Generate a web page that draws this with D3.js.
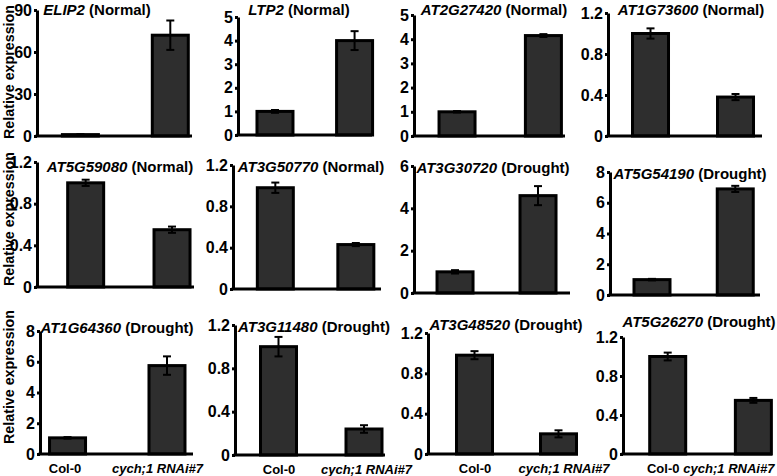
<!DOCTYPE html>
<html><head><meta charset="utf-8">
<script src="https://cdn.jsdelivr.net/npm/d3@7"></script>
<style>
body{margin:0;background:#fff;}
svg{display:block;font-family:"Liberation Sans",Arial,sans-serif;font-weight:bold;}
</style></head>
<body><svg id="c" width="777" height="476"></svg>
<script>
const genes = ["ELIP2","LTP2","AT2G27420","AT1G73600","AT5G59080","AT3G50770","AT3G30720","AT5G54190","AT1G64360","AT3G11480","AT3G48520","AT5G26270"];
const conditions = ["(Normal)","(Normal)","(Normal)","(Normal)","(Normal)","(Normal)","(Drought)","(Drought)","(Drought)","(Drought)","(Drought)","(Drought)"];
const groups = ["Col-0","cych;1 RNAi#7"];
const colValues  = [1.0, 1.0, 1.0, 1.0, 1.0, 0.98, 1.0, 1.0, 1.05, 1.0, 0.98, 1.0];
const colErrors  = [0.3, 0.06, 0.03, 0.05, 0.03, 0.05, 0.08, 0.05, 0.05, 0.09, 0.04, 0.04];
const rnaiValues = [72, 4.0, 4.15, 0.38, 0.55, 0.43, 4.6, 6.9, 5.75, 0.24, 0.2, 0.55];
const rnaiErrors = [10.5, 0.4, 0.06, 0.03, 0.03, 0.015, 0.45, 0.2, 0.6, 0.035, 0.035, 0.025];
const yMax = [90, 5, 5, 1.2, 1.2, 1.2, 6, 8, 8, 1.2, 1.2, 1.2];
const yTicks = [
  [0,30,60,90],[0,1,2,3,4,5],[0,1,2,3,4,5],[0,0.4,0.8,1.2],
  [0,0.4,0.8,1.2],[0,0.4,0.8,1.2],[0,2,4,6],[0,2,4,6,8],
  [0,2,4,6,8],[0,0.4,0.8,1.2],[0,0.4,0.8,1.2],[0,0.4,0.8,1.2]
];
const yLabel = "Relative expression";

// layout (pixel geometry of each panel)
const layout = [
  {x0:37, x1:192, yT:10, yB:136, fL:.28, fR:.86, tx:97, ty:15},
  {x0:238,x1:372, yT:17, yB:135, fL:.276,fR:.87, tx:299,ty:15},
  {x0:414,x1:565, yT:15, yB:136, fL:.285,fR:.857,tx:494,ty:15},
  {x0:608,x1:762, yT:13, yB:136, fL:.276,fR:.828,tx:691,ty:15},
  {x0:37, x1:194, yT:162,yB:287, fL:.31, fR:.86, tx:120,ty:172},
  {x0:233,x1:381, yT:165,yB:289, fL:.286,fR:.83, tx:311,ty:172},
  {x0:414,x1:570, yT:166,yB:293, fL:.263,fR:.795,tx:493,ty:173},
  {x0:610,x1:760, yT:172,yB:295, fL:.28, fR:.835,tx:690,ty:179},
  {x0:40, x1:193, yT:331,yB:454, fL:.18, fR:.83, tx:117,ty:333, lx:[-3,-10]},
  {x0:235,x1:385, yT:325,yB:455, fL:.29, fR:.86, tx:314,ty:332, lx:[0,2]},
  {x0:428,x1:578, yT:333,yB:454, fL:.31, fR:.87, tx:506,ty:330, lx:[0,5]},
  {x0:623,x1:772, yT:337,yB:454, fL:.30, fR:.875,tx:699,ty:327, lx:[-5,-25]}
];
const rowLabelY = [72, 219, 377];
const barW = 36;

const svg = d3.select("#c");
const fmt = v => (v === 0 ? "0" : (Number.isInteger(v) ? String(v) : d3.format(".1f")(v)));

genes.forEach((g, i) => {
  const L = layout[i];
  const w = L.x1 - L.x0;
  const y = d3.scaleLinear().domain([0, yMax[i]]).range([L.yB, L.yT]);
  const x = d3.scalePoint().domain(groups).range([L.x0 + L.fL*w, L.x0 + L.fR*w]);
  const p = svg.append("g");
  const vals = [colValues[i], rnaiValues[i]];
  const errs = [colErrors[i], rnaiErrors[i]];

  // bars
  p.selectAll("rect").data(groups).join("rect")
    .attr("x", d => x(d) - barW/2)
    .attr("width", barW)
    .attr("y", (d, k) => y(vals[k]))
    .attr("height", (d, k) => L.yB - y(vals[k]))
    .attr("fill", "#2e2e2e").attr("stroke", "#000").attr("stroke-width", 3);

  // error bars
  groups.forEach((d, k) => {
    const cx = x(d), lo = y(vals[k] - errs[k]), hi = y(vals[k] + errs[k]);
    p.append("line").attr("x1", cx).attr("x2", cx).attr("y1", lo).attr("y2", hi)
      .attr("stroke", "#000").attr("stroke-width", 2);
    [lo, hi].forEach(yy => p.append("line").attr("x1", cx-4).attr("x2", cx+4).attr("y1", yy).attr("y2", yy)
      .attr("stroke", "#000").attr("stroke-width", 2));
  });

  // y axis
  const ya = p.append("g").attr("transform", `translate(${L.x0},0)`)
    .call(d3.axisLeft(y).tickValues(yTicks[i]).tickFormat(fmt).tickSize(3).tickSizeOuter(0).tickPadding(2));
  ya.select(".domain").attr("stroke-width", 3);
  ya.selectAll(".tick line").attr("stroke-width", 3);
  ya.selectAll("text").attr("font-size", 16).attr("font-weight", "bold")
    .attr("font-family", "Liberation Sans, Arial, sans-serif").attr("fill", "#000");

  // x axis baseline
  p.append("line").attr("x1", L.x0 - 1.5).attr("x2", L.x1).attr("y1", L.yB).attr("y2", L.yB)
    .attr("stroke", "#000").attr("stroke-width", 3);

  // x labels on bottom row
  if (i >= 8) {
    const xa = p.append("g").attr("transform", `translate(0,${L.yB + 3})`)
      .call(d3.axisBottom(x).tickSize(0).tickPadding(7));
    xa.select(".domain").remove();
    xa.selectAll("text").attr("font-size", 13).attr("font-weight", "bold")
      .attr("font-family", "Liberation Sans, Arial, sans-serif").attr("fill", "#000")
      .attr("font-style", d => d === groups[1] ? "italic" : "normal")
      .attr("dx", (d, k) => L.lx[k]);
  }

  // title
  const t = p.append("text").attr("x", L.tx).attr("y", L.ty).attr("text-anchor", "middle")
    .attr("font-size", 15).attr("font-weight", "bold");
  t.append("tspan").attr("font-style", "italic").text(g);
  t.append("tspan").text(" " + conditions[i]);
});

rowLabelY.forEach(cy => {
  svg.append("text").attr("transform", `translate(14,${cy}) rotate(-90)`)
    .attr("text-anchor", "middle").attr("font-size", 14.5).attr("font-weight", "bold")
    .attr("textLength", 134).attr("lengthAdjust", "spacingAndGlyphs").text(yLabel);
});
</script></body></html>
